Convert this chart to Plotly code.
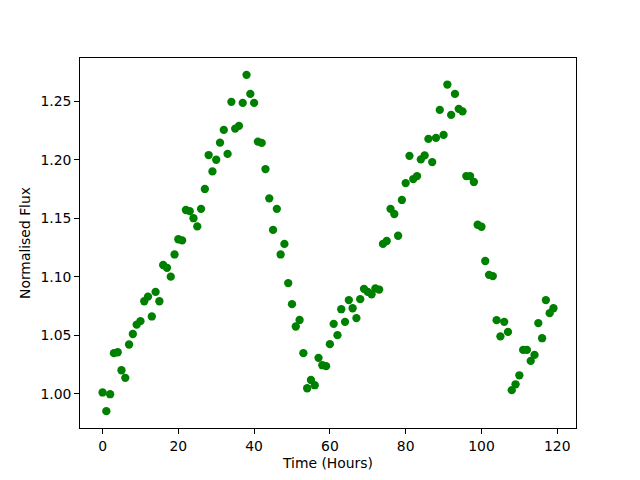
import plotly.graph_objects as go

hours = list(range(120))
flux = [
    1.001, 0.985, 0.9995, 1.0346, 1.0354, 1.020, 1.0135, 1.042, 1.051, 1.059,
    1.062, 1.079, 1.083, 1.066, 1.087, 1.079, 1.110, 1.1076, 1.100, 1.119,
    1.132, 1.131, 1.157, 1.156, 1.150, 1.143, 1.158, 1.175, 1.204, 1.190,
    1.200, 1.2146, 1.2255, 1.205, 1.2495, 1.2266, 1.229, 1.2486, 1.2726, 1.2563,
    1.2486, 1.2155, 1.2144, 1.192, 1.167, 1.140, 1.158, 1.119, 1.128, 1.0945,
    1.0765, 1.0574, 1.063, 1.0346, 1.0046, 1.0117, 1.0072, 1.0306, 1.0243, 1.0235,
    1.0423, 1.0597, 1.050, 1.0722, 1.0614, 1.080, 1.073, 1.0646, 1.0808, 1.0896,
    1.087, 1.085, 1.090, 1.089, 1.128, 1.1305, 1.158, 1.1536, 1.135, 1.1656,
    1.180, 1.2033, 1.1835, 1.186, 1.2003, 1.2037, 1.2178, 1.198, 1.2187, 1.2426,
    1.2212, 1.2643, 1.2383, 1.2563, 1.2435, 1.2414, 1.186, 1.186, 1.181, 1.1444,
    1.1427, 1.1134, 1.1016, 1.1005, 1.0628, 1.049, 1.0614, 1.0528, 1.003, 1.008,
    1.0157, 1.0374, 1.0374, 1.028, 1.0331, 1.0603, 1.0474, 1.080, 1.0688, 1.073,
]
x_ticks = [0, 20, 40, 60, 80, 100, 120]
y_ticks = [1.00, 1.05, 1.10, 1.15, 1.20, 1.25]

def padded(vals, frac=0.05):
    lo, hi = min(vals), max(vals)
    d = (hi - lo) * frac
    return [lo - d, hi + d]

fig = go.Figure(go.Scatter(
    x=hours, y=flux, mode="markers",
    marker=dict(color="#008000", size=8.3, line=dict(width=0)),
))

font = dict(family="DejaVu Sans", size=13.9, color="black")
axis_common = dict(
    showline=True, linecolor="black", linewidth=1, mirror=True,
    ticks="outside", ticklen=4.9, tickwidth=1, tickcolor="black",
    showgrid=False, zeroline=False, tickfont=font, automargin=False,
)
fig.update_xaxes(range=padded(hours), tickvals=x_ticks,
                 title=dict(text="Time (Hours)", font=font, standoff=5),
                 **axis_common)
fig.update_yaxes(range=padded(flux), tickvals=y_ticks, tickformat=".2f",
                 title=dict(text="Normalised Flux", font=font, standoff=6),
                 **axis_common)
fig.update_layout(
    width=632, height=473,
    margin=dict(l=72, r=64, t=50, b=53),
    paper_bgcolor="white", plot_bgcolor="white",
    showlegend=False, font=font,
)
fig.write_html("out.html")
